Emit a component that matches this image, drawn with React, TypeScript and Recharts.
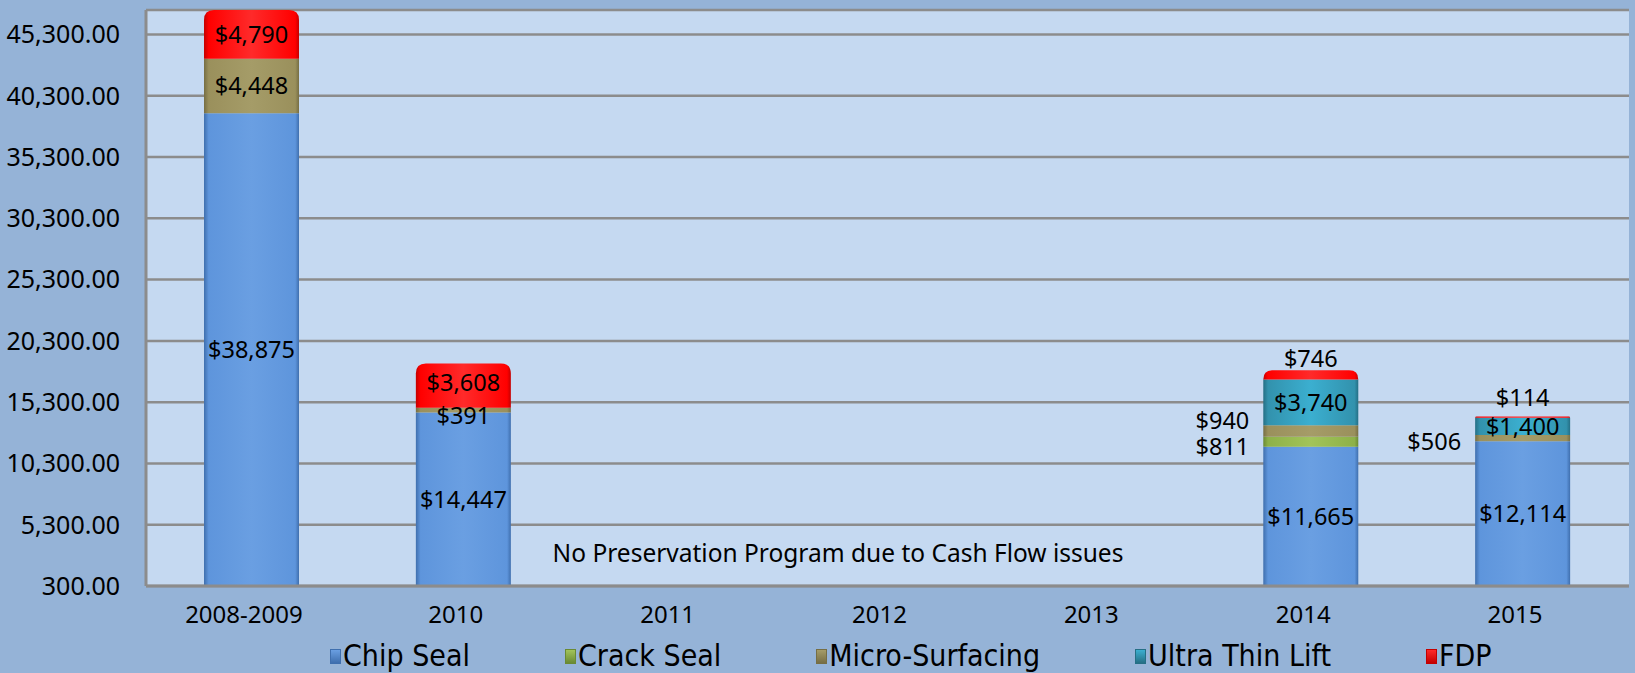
import React from 'react';
import { BarChart, Bar, XAxis, YAxis, CartesianGrid, Legend, LabelList } from 'recharts';

const categories = ['2008-2009', '2010', '2011', '2012', '2013', '2014', '2015'];
const chipSeal = [38875, 14447, 0, 0, 0, 11665, 12114];
const crackSeal = [0, 0, 0, 0, 0, 811, 0];
const microSurfacing = [4448, 391, 0, 0, 0, 940, 506];
const ultraThinLift = [0, 0, 0, 0, 0, 3740, 1400];
const fdp = [4790, 3608, 0, 0, 0, 746, 114];
const yTicks = [300, 5300, 10300, 15300, 20300, 25300, 30300, 35300, 40300, 45300];
const note = 'No Preservation Program due to Cash Flow issues';

const W = 1635;
const H = 673;
const PLOT_TOP = 10;
const X_AXIS_H = 87;
const PLOT_BOTTOM = H - X_AXIS_H;
const FONT = '"Noto Sans", "Open Sans", sans-serif';
const NARROW = '"Liberation Sans Narrow", "DejaVu Sans Condensed", sans-serif';

const data = categories.map((name, i) => ({
  name,
  chip: chipSeal[i],
  crack: crackSeal[i],
  micro: microSurfacing[i],
  ultra: ultraThinLift[i],
  fdp: fdp[i],
}));

const series = [
  { key: 'chip', label: 'Chip Seal', light: '#6a9fe2', color: '#5e95dc', dark: '#3f6fae' },
  { key: 'crack', label: 'Crack Seal', light: '#a2c45a', color: '#8db148', dark: '#6a8a33' },
  { key: 'micro', label: 'Micro-Surfacing', light: '#a59c68', color: '#9a905c', dark: '#766e44' },
  { key: 'ultra', label: 'Ultra Thin Lift', light: '#3bafd0', color: '#3292ad', dark: '#256f85' },
  { key: 'fdp', label: 'FDP', light: '#ff2a2a', color: '#ff0000', dark: '#c40000' },
];

// labels Excel pushed around thin segments
const spots: Record<string, Record<string, { pos: 'left' | 'above' | 'center'; dy: number }>> = {
  crack: { '2014': { pos: 'left', dy: 5 } },
  micro: { '2010': { pos: 'center', dy: 5 }, '2014': { pos: 'left', dy: -10 }, '2015': { pos: 'left', dy: 3 } },
  fdp: { '2010': { pos: 'center', dy: -3 }, '2014': { pos: 'above', dy: 0 }, '2015': { pos: 'above', dy: -7 } },
};

const money = (v: number) => '$' + v.toLocaleString('en-US');

const makeLabel = (key: string) => (props: any) => {
  const { x, y, width, height, value, index } = props;
  if (!value) return null;
  const top = Math.max(Math.min(y, y + height), PLOT_TOP);
  const bottom = Math.min(Math.max(y, y + height), PLOT_BOTTOM);
  const spot = spots[key]?.[categories[index]];
  let tx = x + width / 2;
  let ty = (top + bottom) / 2;
  let anchor: 'middle' | 'end' = 'middle';
  if (spot?.pos === 'left') {
    tx = x - 14;
    anchor = 'end';
    ty += spot.dy;
  } else if (spot?.pos === 'above') {
    ty = top - 12 + spot.dy;
  } else if (spot) {
    ty += spot.dy;
  }
  return (
    <text x={tx} y={ty} dy="0.36em" textAnchor={anchor} fontFamily={FONT} fontSize={23.5} fill="#000">
      {money(value)}
    </text>
  );
};

const makeShape = (s: typeof series[number], rounded: boolean) => (props: any) => {
  const { x, y, width, height, index } = props;
  if (!height || !width) return <g />;
  const bottom = Math.min(Math.max(y, y + height), PLOT_BOTTOM + 4);
  // Excel keeps the rounded cap visible when the bar runs past the axis max
  const top = Math.max(Math.min(y, y + height), PLOT_TOP);
  const h = bottom - top;
  if (h <= 0) return <g />;
  const id = `g-${s.key}-${index}`;
  const r = rounded ? Math.min(10, h, width / 2) : 0;
  const d = r
    ? `M${x},${top + h} L${x},${top + r} Q${x},${top} ${x + r},${top} L${x + width - r},${top} Q${x + width},${top} ${x + width},${top + r} L${x + width},${top + h} Z`
    : `M${x},${top} h${width} v${h} h${-width} Z`;
  return (
    <g>
      <defs>
        <linearGradient id={id} x1="0" y1="0" x2="1" y2="0">
          <stop offset="0" stopColor={s.dark} />
          <stop offset="0.05" stopColor={s.color} />
          <stop offset="0.5" stopColor={s.light} />
          <stop offset="0.96" stopColor={s.color} />
          <stop offset="1" stopColor={s.dark} />
        </linearGradient>
      </defs>
      <path d={d} fill={`url(#${id})`} />
    </g>
  );
};

const LegendBox = () => (
  <div style={{ display: 'flex', paddingLeft: 330, gap: 95, alignItems: 'center' }}>
    {series.map((s) => (
      <div key={s.key} style={{ display: 'flex', alignItems: 'center' }}>
        <span
          style={{
            width: 11,
            height: 15,
            marginRight: 2,
            background: `linear-gradient(${s.light}, ${s.dark})`,
            border: `1px solid ${s.dark}`,
            boxSizing: 'border-box',
          }}
        />
        <span style={{ fontFamily: NARROW, fontSize: 30, color: '#000', lineHeight: '32px' }}>{s.label}</span>
      </div>
    ))}
  </div>
);

export default function App() {
  return (
    <div style={{ position: 'absolute', left: 0, top: 0, width: W, height: H, background: '#95b3d7' }}>
      <BarChart width={W} height={H} data={data} margin={{ top: PLOT_TOP, right: 6, left: 0, bottom: 0 }}>
        <CartesianGrid vertical={false} fill="#c5d9f1" stroke="#8c8c8c" strokeWidth={2.5} />
        <XAxis
          dataKey="name"
          height={X_AXIS_H}
          tickLine={false}
          tickSize={6}
          tickMargin={14}
          axisLine={{ stroke: '#8c8c8c', strokeWidth: 3 }}
          tick={{ fill: '#000', fontSize: 24, fontFamily: FONT, dx: -8 }}
          interval={0}
        />
        <YAxis
          width={146}
          domain={[300, 47300]}
          ticks={yTicks}
          allowDataOverflow
          tickLine={false}
          tickSize={8}
          tickMargin={18}
          axisLine={{ stroke: '#8c8c8c', strokeWidth: 3 }}
          tick={{ fill: '#000', fontSize: 25, fontFamily: FONT }}
          tickFormatter={(v: number) => v.toLocaleString('en-US', { minimumFractionDigits: 2, maximumFractionDigits: 2 })}
        />
        <Legend
          layout="horizontal"
          verticalAlign="middle"
          align="center"
          wrapperStyle={{ position: 'absolute', top: 640, left: 0, width: W }}
          content={() => <LegendBox />}
        />
        {series.map((s) => (
          <Bar
            key={s.key}
            dataKey={s.key}
            name={s.label}
            stackId="a"
            barSize={95}
            fill={s.color}
            isAnimationActive={false}
            shape={makeShape(s, s.key === 'fdp')}
          >
            <LabelList dataKey={s.key} content={makeLabel(s.key)} />
          </Bar>
        ))}
      </BarChart>
      <div
        style={{
          position: 'absolute',
          left: 0,
          width: 1676,
          top: 536,
          textAlign: 'center',
          fontFamily: FONT,
          fontSize: 24.5,
          color: '#000',
        }}
      >
        {note}
      </div>
    </div>
  );
}
